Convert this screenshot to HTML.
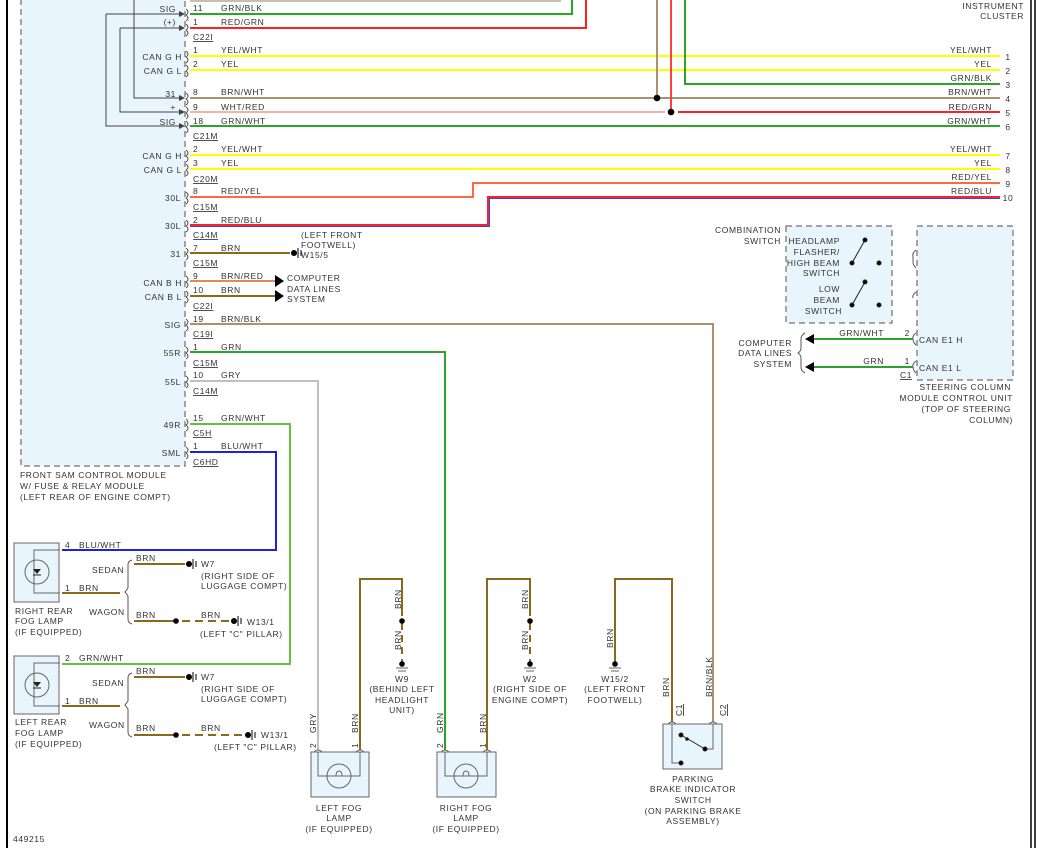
<!DOCTYPE html>
<html><head><meta charset="utf-8"><style>
html,body{margin:0;padding:0;background:#fff}
svg{display:block}
text{font-family:"Liberation Sans",sans-serif;font-size:8.5px;fill:#333;letter-spacing:0.6px}
.r{text-anchor:end}.m{text-anchor:middle}
.w{fill:none;stroke-width:2}
</style></head><body>
<svg width="1037" height="848" viewBox="0 0 1037 848" xmlns="http://www.w3.org/2000/svg">
<rect width="1037" height="848" fill="#fff"/>
<line x1="7" y1="0" x2="7" y2="848" stroke="#000" stroke-width="2"/>
<line x1="1031" y1="0" x2="1031" y2="848" stroke="#000" stroke-width="1.5"/>
<line x1="1035" y1="0" x2="1035" y2="848" stroke="#000" stroke-width="1.5"/>
<!-- module -->
<rect x="21" y="-5" width="164" height="471" fill="#e8f5fc" stroke="#888" stroke-width="1.5" stroke-dasharray="6,4"/>
<g fill="none" stroke="#444" stroke-width="1">
<polyline points="134,0 134,98 184,98"/><polyline points="120,28 120,112 184,112"/><polyline points="106,14 106,126 184,126"/>
<polyline points="120,28 184,28"/><polyline points="106,14 184,14"/>
</g>
<g fill="#444">
<path d="M185,98 l-6,-3 v6z"/><path d="M185,112 l-6,-3 v6z"/><path d="M185,126 l-6,-3 v6z"/><path d="M185,28 l-6,-3 v6z"/><path d="M185,14 l-6,-3 v6z"/>
</g>
<!-- module pin labels -->
<g class="r">
<text x="176" y="12" class="r">SIG</text><text x="176" y="25" class="r">(+)</text>
<text x="182" y="60" class="r">CAN G H</text><text x="182" y="74" class="r">CAN G L</text>
<text x="176" y="97" class="r">31</text><text x="176" y="110" class="r">+</text><text x="176" y="125" class="r">SIG</text>
<text x="182" y="159" class="r">CAN G H</text><text x="182" y="173" class="r">CAN G L</text>
<text x="181" y="201" class="r">30L</text><text x="181" y="229" class="r">30L</text>
<text x="181" y="257" class="r">31</text>
<text x="182" y="286" class="r">CAN B H</text><text x="182" y="300" class="r">CAN B L</text>
<text x="181" y="328" class="r">SIG</text><text x="181" y="356" class="r">55R</text><text x="181" y="385" class="r">55L</text>
<text x="181" y="428" class="r">49R</text><text x="181" y="456" class="r">SML</text>
</g>
<text x="20" y="478">FRONT SAM CONTROL MODULE</text>
<text x="20" y="489">W/ FUSE &amp; RELAY MODULE</text>
<text x="20" y="500">(LEFT REAR OF ENGINE COMPT)</text>
<!-- wires -->
<polyline class="w" stroke="#c8c0a8" points="190,1 560,1 560,-5"/>
<polyline class="w" stroke="#2aa52a" points="190,14 572,14 572,-5"/>
<polyline class="w" stroke="#ff2020" points="190,28 586,28 586,-5"/>
<line class="w" stroke="#ffff00" x1="190" y1="56" x2="1000" y2="56"/>
<line class="w" stroke="#ffff00" x1="190" y1="70" x2="1000" y2="70"/>
<polyline class="w" stroke="#2aa52a" points="685,-5 685,84 1000,84"/>
<line class="w" stroke="#a8936a" x1="190" y1="98" x2="1000" y2="98"/>
<line class="w" stroke="#a8936a" x1="657" y1="-5" x2="657" y2="98"/>
<line class="w" stroke="#f2b0b0" x1="190" y1="112" x2="665" y2="112"/>
<line class="w" stroke="#ff2020" x1="678" y1="112" x2="1000" y2="112"/>
<line class="w" stroke="#ff4040" x1="671" y1="-5" x2="671" y2="112"/>
<circle cx="657" cy="98" r="3.3" fill="#000"/><circle cx="671" cy="112" r="3.3" fill="#000"/>
<line class="w" stroke="#2aa52a" x1="190" y1="126" x2="1000" y2="126"/>
<line class="w" stroke="#ffff00" x1="190" y1="155" x2="1000" y2="155"/>
<line class="w" stroke="#ffff00" x1="190" y1="169" x2="1000" y2="169"/>
<polyline class="w" stroke="#ff6a3d" points="190,197 473,197 473,183 1000,183"/>
<polyline class="w" stroke="#ff2020" points="190,225 488,225 488,197 1000,197"/>
<polyline fill="none" stroke="#3344ff" stroke-width="1" points="190,226.5 489.5,226.5 489.5,198.5 1000,198.5"/>
<line class="w" stroke="#8a6a1a" x1="190" y1="253" x2="290" y2="253"/>
<line class="w" stroke="#e08a5a" x1="190" y1="281" x2="276" y2="281"/>
<line class="w" stroke="#8a6a1a" x1="190" y1="296" x2="276" y2="296"/>
<path d="M284,281 l-9,-6 v12z M284,296 l-9,-6 v12z" fill="#000"/>
<polyline class="w" stroke="#a8936a" points="190,324 713,324 713,722"/>
<polyline class="w" stroke="#2aa52a" points="190,352 445,352 445,750"/>
<polyline class="w" stroke="#c0c0c0" points="190,381 318,381 318,750"/>
<polyline class="w" stroke="#66c040" points="190,424 290,424 290,664 62,664"/>
<polyline class="w" stroke="#2020dd" points="190,452 276,452 276,550 62,550"/>
<!-- module connector marks -->
<g fill="none" stroke="#555" stroke-width="1">
<path d="M186,9 q4,3 0,6 q4,3 0,6 M186,24 q4,3 0,6 q4,3 0,6 M186,51 q4,3 0,6 q4,3 0,6 M186,65 q4,3 0,6 q4,3 0,6 M186,93 q4,3 0,6 q4,3 0,6 M186,107 q4,3 0,6 q4,3 0,6 M186,121 q4,3 0,6 q4,3 0,6 M186,150 q4,3 0,6 q4,3 0,6 M186,164 q4,3 0,6 q4,3 0,6 M186,192 q4,3 0,6 q4,3 0,6 M186,220 q4,3 0,6 q4,3 0,6 M186,248 q4,3 0,6 q4,3 0,6 M186,276 q4,3 0,6 q4,3 0,6 M186,291 q4,3 0,6 q4,3 0,6 M186,319 q4,3 0,6 q4,3 0,6 M186,347 q4,3 0,6 q4,3 0,6 M186,376 q4,3 0,6 q4,3 0,6 M186,419 q4,3 0,6 q4,3 0,6 M186,447 q4,3 0,6 q4,3 0,6"/>
</g>
<!-- wire labels -->
<g>
<text x="193" y="11">11</text><text x="221" y="11">GRN/BLK</text>
<text x="193" y="25">1</text><text x="221" y="25">RED/GRN</text>
<text x="193" y="40" text-decoration="underline">C22I</text>
<text x="193" y="53">1</text><text x="221" y="53">YEL/WHT</text>
<text x="193" y="67">2</text><text x="221" y="67">YEL</text>
<text x="193" y="95">8</text><text x="221" y="95">BRN/WHT</text>
<text x="193" y="110">9</text><text x="221" y="110">WHT/RED</text>
<text x="193" y="124">18</text><text x="221" y="124">GRN/WHT</text>
<text x="193" y="139" text-decoration="underline">C21M</text>
<text x="193" y="152">2</text><text x="221" y="152">YEL/WHT</text>
<text x="193" y="166">3</text><text x="221" y="166">YEL</text>
<text x="193" y="182" text-decoration="underline">C20M</text>
<text x="193" y="194">8</text><text x="221" y="194">RED/YEL</text>
<text x="193" y="210" text-decoration="underline">C15M</text>
<text x="193" y="223">2</text><text x="221" y="223">RED/BLU</text>
<text x="193" y="238" text-decoration="underline">C14M</text>
<text x="193" y="251">7</text><text x="221" y="251">BRN</text>
<text x="193" y="266" text-decoration="underline">C15M</text>
<text x="193" y="279">9</text><text x="221" y="279">BRN/RED</text>
<text x="193" y="293">10</text><text x="221" y="293">BRN</text>
<text x="193" y="309" text-decoration="underline">C22I</text>
<text x="193" y="322">19</text><text x="221" y="322">BRN/BLK</text>
<text x="193" y="337" text-decoration="underline">C19I</text>
<text x="193" y="350">1</text><text x="221" y="350">GRN</text>
<text x="193" y="366" text-decoration="underline">C15M</text>
<text x="193" y="378">10</text><text x="221" y="378">GRY</text>
<text x="193" y="394" text-decoration="underline">C14M</text>
<text x="193" y="421">15</text><text x="221" y="421">GRN/WHT</text>
<text x="193" y="436" text-decoration="underline">C5H</text>
<text x="193" y="449">1</text><text x="221" y="449">BLU/WHT</text>
<text x="193" y="465" text-decoration="underline">C6HD</text>
</g>
<!-- ground W15/5 -->
<circle cx="294" cy="253" r="3" fill="#000"/><line x1="298" y1="248" x2="298" y2="258" stroke="#000"/><line x1="301" y1="250" x2="301" y2="256" stroke="#000"/>
<text x="301" y="238">(LEFT FRONT</text><text x="301" y="248">FOOTWELL)</text><text x="301" y="258">W15/5</text>
<text x="287" y="281">COMPUTER</text><text x="287" y="292">DATA LINES</text><text x="287" y="302">SYSTEM</text>
<!-- instrument cluster right side labels -->
<text x="1024" y="9" class="r">INSTRUMENT</text><text x="1024" y="19" class="r">CLUSTER</text>
<g class="r">
<text x="992" y="53" class="r">YEL/WHT</text><text x="992" y="67" class="r">YEL</text><text x="992" y="81" class="r">GRN/BLK</text>
<text x="992" y="95" class="r">BRN/WHT</text><text x="992" y="110" class="r">RED/GRN</text><text x="992" y="124" class="r">GRN/WHT</text>
<text x="992" y="152" class="r">YEL/WHT</text><text x="992" y="166" class="r">YEL</text><text x="992" y="180" class="r">RED/YEL</text><text x="992" y="194" class="r">RED/BLU</text>
</g>
<g class="m">
<text x="1008" y="60" class="m">1</text><text x="1008" y="74" class="m">2</text><text x="1008" y="88" class="m">3</text><text x="1008" y="102" class="m">4</text><text x="1008" y="116" class="m">5</text><text x="1008" y="130" class="m">6</text>
<text x="1008" y="159" class="m">7</text><text x="1008" y="173" class="m">8</text><text x="1008" y="187" class="m">9</text><text x="1008" y="201" class="m">10</text>
</g>
<!-- combination switch -->
<rect x="786" y="226" width="106" height="97" fill="#e8f5fc" stroke="#888" stroke-width="1.5" stroke-dasharray="6,4"/>
<text x="781" y="233" class="r">COMBINATION</text><text x="781" y="244" class="r">SWITCH</text>
<text x="840" y="244" class="r">HEADLAMP</text><text x="840" y="255" class="r">FLASHER/</text><text x="840" y="266" class="r">HIGH BEAM</text><text x="840" y="276" class="r">SWITCH</text>
<text x="840" y="292" class="r">LOW</text><text x="840" y="303" class="r">BEAM</text><text x="842" y="314" class="r">SWITCH</text>
<g stroke="#222" fill="#000"><line x1="852" y1="263" x2="865" y2="240"/><circle cx="852" cy="263" r="2"/><circle cx="865" cy="240" r="2"/><circle cx="879" cy="263" r="2"/>
<line x1="852" y1="305" x2="865" y2="282"/><circle cx="852" cy="305" r="2"/><circle cx="865" cy="282" r="2"/><circle cx="879" cy="305" r="2"/></g>
<!-- steering column -->
<rect x="917" y="226" width="96" height="154" fill="#e8f5fc" stroke="#888" stroke-width="1.5" stroke-dasharray="6,4"/>
<g fill="none" stroke="#555"><path d="M916,250 q-4,3 -3,6 v6 q0,3 3,6 M916,292 q-4,3 -3,6 v0 M916,333 q-4,3 -3,6 q0,3 3,6 M916,361 q-4,3 -3,6 q0,3 3,6"/></g>
<line class="w" stroke="#2aa52a" x1="810" y1="339" x2="913" y2="339"/>
<line class="w" stroke="#2aa52a" x1="810" y1="367" x2="913" y2="367"/>
<path d="M805,339 l9,-5 v10z M805,367 l9,-5 v10z" fill="#000"/>
<path d="M805,333 q-4,2 -4,6 v9 q0,3 -3,5 q3,2 3,5 v9 q0,4 4,6" fill="none" stroke="#555"/>
<text x="792" y="346" class="r">COMPUTER</text><text x="792" y="356" class="r">DATA LINES</text><text x="792" y="367" class="r">SYSTEM</text>
<text x="884" y="336" class="r">GRN/WHT</text><text x="884" y="364" class="r">GRN</text>
<text x="910" y="336" class="r">2</text><text x="910" y="364" class="r">1</text>
<text x="900" y="378" text-decoration="underline">C1</text>
<text x="919" y="343">CAN E1 H</text><text x="919" y="371">CAN E1 L</text>
<text x="1011" y="390" class="r">STEERING COLUMN</text><text x="1013" y="401" class="r">MODULE CONTROL UNIT</text><text x="1011" y="412" class="r">(TOP OF STEERING</text><text x="1013" y="423" class="r">COLUMN)</text>
<!-- rear fog lamps -->
<g>
<rect x="14" y="543" width="45" height="59" fill="#e8f5fc" stroke="#666"/>
<circle cx="37" cy="572" r="12" fill="none" stroke="#666"/>
<polyline points="60,550 34,550 34,593 60,593" fill="none" stroke="#666"/>
<path d="M33,569 h8 l-4,5z" fill="#222"/><line x1="33" y1="575" x2="41" y2="575" stroke="#222"/>
<text x="15" y="614">RIGHT REAR</text><text x="15" y="624">FOG LAMP</text><text x="15" y="635">(IF EQUIPPED)</text>
<rect x="14" y="656" width="45" height="58" fill="#e8f5fc" stroke="#666"/>
<circle cx="37" cy="685" r="12" fill="none" stroke="#666"/>
<polyline points="60,663 34,663 34,706 60,706" fill="none" stroke="#666"/>
<path d="M33,682 h8 l-4,5z" fill="#222"/><line x1="33" y1="688" x2="41" y2="688" stroke="#222"/>
<text x="15" y="725">LEFT REAR</text><text x="15" y="736">FOG LAMP</text><text x="15" y="747">(IF EQUIPPED)</text>
</g>
<text x="65" y="548">4</text><text x="79" y="548">BLU/WHT</text>
<text x="65" y="591">1</text><text x="79" y="591">BRN</text>
<text x="65" y="661">2</text><text x="79" y="661">GRN/WHT</text>
<text x="65" y="704">1</text><text x="79" y="704">BRN</text>
<line class="w" stroke="#8a6a1a" x1="62" y1="593" x2="120" y2="593"/>
<line class="w" stroke="#8a6a1a" x1="62" y1="706" x2="120" y2="706"/>
<path d="M132,560 q-4,1 -4,5 v23 l-3,4 l3,4 v23 q0,4 4,5 M132,673 q-4,1 -4,5 v23 l-3,4 l3,4 v23 q0,4 4,5" fill="none" stroke="#555"/>
<text x="92" y="573">SEDAN</text><text x="89" y="615">WAGON</text>
<text x="92" y="686">SEDAN</text><text x="89" y="728">WAGON</text>
<g>
<line class="w" stroke="#8a6a1a" x1="134" y1="564" x2="185" y2="564"/><text x="136" y="561">BRN</text>
<circle cx="189" cy="564" r="3" fill="#000"/><line x1="193" y1="559" x2="193" y2="569" stroke="#000"/><line x1="196" y1="561" x2="196" y2="567" stroke="#000"/>
<text x="201" y="567">W7</text><text x="201" y="579">(RIGHT SIDE OF</text><text x="201" y="589">LUGGAGE COMPT)</text>
<line class="w" stroke="#8a6a1a" x1="134" y1="621" x2="176" y2="621"/><text x="136" y="618">BRN</text>
<circle cx="176" cy="621" r="2.8" fill="#000"/>
<line class="w" stroke="#8a6a1a" stroke-dasharray="8,5" x1="182" y1="621" x2="230" y2="621"/><text x="201" y="618">BRN</text>
<circle cx="234" cy="621" r="3" fill="#000"/><line x1="238" y1="616" x2="238" y2="626" stroke="#000"/><line x1="241" y1="618" x2="241" y2="624" stroke="#000"/>
<text x="247" y="625">W13/1</text><text x="200" y="637">(LEFT "C" PILLAR)</text>
<line class="w" stroke="#8a6a1a" x1="134" y1="677" x2="185" y2="677"/><text x="136" y="674">BRN</text>
<circle cx="189" cy="677" r="3" fill="#000"/><line x1="193" y1="672" x2="193" y2="682" stroke="#000"/><line x1="196" y1="674" x2="196" y2="680" stroke="#000"/>
<text x="201" y="680">W7</text><text x="201" y="692">(RIGHT SIDE OF</text><text x="201" y="702">LUGGAGE COMPT)</text>
<line class="w" stroke="#8a6a1a" x1="134" y1="735" x2="176" y2="735"/><text x="136" y="731">BRN</text>
<circle cx="176" cy="735" r="2.8" fill="#000"/>
<line class="w" stroke="#8a6a1a" stroke-dasharray="8,5" x1="182" y1="735" x2="244" y2="735"/><text x="201" y="731">BRN</text>
<circle cx="248" cy="735" r="3" fill="#000"/><line x1="252" y1="730" x2="252" y2="740" stroke="#000"/><line x1="255" y1="732" x2="255" y2="738" stroke="#000"/>
<text x="261" y="738">W13/1</text><text x="214" y="750">(LEFT "C" PILLAR)</text>
</g>
<!-- bottom grounds -->
<polyline class="w" stroke="#8a6a1a" points="360,750 360,579 402,579 402,616"/>
<line class="w" stroke="#8a6a1a" stroke-dasharray="7,5" x1="402" y1="623" x2="402" y2="662"/>
<circle cx="402" cy="621" r="2.8" fill="#000"/><circle cx="402" cy="664" r="2.8" fill="#000"/>
<line x1="396" y1="668" x2="408" y2="668" stroke="#666"/><line x1="398" y1="671" x2="406" y2="671" stroke="#666"/>
<polyline class="w" stroke="#8a6a1a" points="487,750 487,579 530,579 530,616"/>
<line class="w" stroke="#8a6a1a" stroke-dasharray="7,5" x1="530" y1="623" x2="530" y2="662"/>
<circle cx="530" cy="621" r="2.8" fill="#000"/><circle cx="530" cy="664" r="2.8" fill="#000"/>
<line x1="524" y1="668" x2="536" y2="668" stroke="#666"/><line x1="526" y1="671" x2="534" y2="671" stroke="#666"/>
<polyline class="w" stroke="#8a6a1a" points="615,662 615,579 672,579 672,722"/>
<circle cx="615" cy="664" r="2.8" fill="#000"/>
<line x1="609" y1="668" x2="621" y2="668" stroke="#666"/><line x1="611" y1="671" x2="619" y2="671" stroke="#666"/>
<text x="402" y="682" class="m">W9</text><text x="402" y="692" class="m">(BEHIND LEFT</text><text x="402" y="703" class="m">HEADLIGHT</text><text x="402" y="713" class="m">UNIT)</text>
<text x="530" y="682" class="m">W2</text><text x="530" y="692" class="m">(RIGHT SIDE OF</text><text x="530" y="703" class="m">ENGINE COMPT)</text>
<text x="615" y="682" class="m">W15/2</text><text x="615" y="692" class="m">(LEFT FRONT</text><text x="615" y="703" class="m">FOOTWELL)</text>
<g font-size="8.5">
<text transform="translate(401,609) rotate(-90)">BRN</text><text transform="translate(401,650) rotate(-90)">BRN</text>
<text transform="translate(528,609) rotate(-90)">BRN</text><text transform="translate(528,650) rotate(-90)">BRN</text>
<text transform="translate(613,648) rotate(-90)">BRN</text>
<text transform="translate(669,697) rotate(-90)">BRN</text><text transform="translate(712,697) rotate(-90)">BRN/BLK</text>
<text transform="translate(316,733) rotate(-90)">GRY</text><text transform="translate(358,733) rotate(-90)">BRN</text>
<text transform="translate(443,733) rotate(-90)">GRN</text><text transform="translate(486,733) rotate(-90)">BRN</text>
<text transform="translate(316,748) rotate(-90)">2</text><text transform="translate(358,748) rotate(-90)">1</text>
<text transform="translate(443,748) rotate(-90)">2</text><text transform="translate(486,748) rotate(-90)">1</text>
<text transform="translate(682,716) rotate(-90)" text-decoration="underline">C1</text><text transform="translate(726,716) rotate(-90)" text-decoration="underline">C2</text>
</g>
<!-- front fog lamps -->
<g fill="none" stroke="#666">
<rect x="311" y="752" width="58" height="45" fill="#e8f5fc"/>
<circle cx="339" cy="776" r="12"/><polyline points="318,752 318,776 360,776 360,752"/>
<path d="M336,776 q0,-5 3,-5 q3,0 3,5"/>
<rect x="437" y="752" width="59" height="45" fill="#e8f5fc"/>
<circle cx="466" cy="776" r="12"/><polyline points="445,752 445,776 487,776 487,752"/>
<path d="M463,776 q0,-5 3,-5 q3,0 3,5"/>
<rect x="663" y="724" width="59" height="45" fill="#e8f5fc"/>
<polyline points="672,724 672,763 680,763"/><polyline points="713,724 713,749 705,749"/>
<path d="M314,752 q4,-4 8,0 M356,752 q4,-4 8,0 M441,752 q4,-4 8,0 M483,752 q4,-4 8,0 M668,724 q4,-4 8,0 M709,724 q4,-4 8,0"/>
</g>
<g fill="#000" stroke="#222"><line x1="681" y1="735" x2="705" y2="749"/><circle cx="681" cy="735" r="2"/><circle cx="705" cy="749" r="2"/><circle cx="681" cy="763" r="2"/><circle cx="687" cy="739" r="1.3"/></g>
<text x="339" y="811" class="m">LEFT FOG</text><text x="339" y="821" class="m">LAMP</text><text x="339" y="832" class="m">(IF EQUIPPED)</text>
<text x="466" y="811" class="m">RIGHT FOG</text><text x="466" y="821" class="m">LAMP</text><text x="466" y="832" class="m">(IF EQUIPPED)</text>
<text x="693" y="782" class="m">PARKING</text><text x="693" y="792" class="m">BRAKE INDICATOR</text><text x="693" y="803" class="m">SWITCH</text><text x="693" y="814" class="m">(ON PARKING BRAKE</text><text x="693" y="824" class="m">ASSEMBLY)</text>
<text x="13" y="842">449215</text>
</svg>
</body></html>
